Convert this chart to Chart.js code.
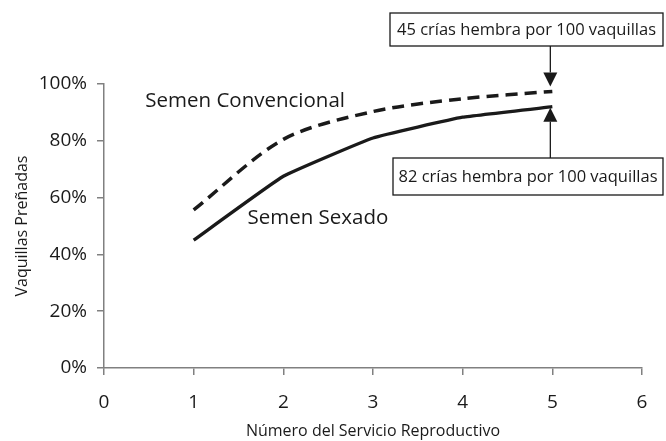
<!DOCTYPE html>
<html>
<head>
<meta charset="utf-8">
<script src="https://cdn.jsdelivr.net/npm/chart.js@4/dist/chart.umd.min.js"></script>
<style>
  body { margin: 0; background: #fff; }
  canvas { display: block; }
</style>
</head>
<body>
<canvas id="pregChart" width="666" height="441"></canvas>
<script>
// numero de servicio
var services = [1, 2, 3, 4, 5]
// % acumulado de vaquillas preñadas
var convencional = [55.7, 80.5, 90.3, 94.8, 97.4]
var sexado = [45, 67.5, 81, 88.3, 92]
var yTicks = [0, 20, 40, 60, 80, 100]
var xTicks = [0, 1, 2, 3, 4, 5, 6]

var FONT = "'Open Sans', sans-serif"
var INK = '#1a1a1a'
var AXIS = '#808080'

function pointsFrom(xs, ys) {
  return xs.map(function (x, i) { return { x: x, y: ys[i] } })
}

// etiquetas y cajas con flechas
var notesPlugin = {
  id: 'notes',
  afterDraw: function (chart) {
    var ctx = chart.ctx
    var xs = chart.scales.x, ys = chart.scales.y
    ctx.save()
    ctx.fillStyle = INK
    ctx.textBaseline = 'middle'
    ctx.textAlign = 'left'
    ctx.font = '20.5px ' + FONT
    ctx.fillText('Semen Convencional', xs.getPixelForValue(0.46), ys.getPixelForValue(94.1))
    ctx.fillText('Semen Sexado', xs.getPixelForValue(1.6), ys.getPixelForValue(52.9))

    var lastX = xs.getPixelForValue(services[services.length - 1]) - 2
    var convEnd = ys.getPixelForValue(convencional[convencional.length - 1])
    var sexEnd = ys.getPixelForValue(sexado[sexado.length - 1])

    drawBox(ctx, 390, 13, 273, 33, '45 crías hembra por 100 vaquillas')
    drawBox(ctx, 393, 158, 270, 37, '82 crías hembra por 100 vaquillas')

    drawArrow(ctx, lastX, 46, convEnd - 5)
    drawArrow(ctx, lastX, 158, sexEnd + 1)
    ctx.restore()
  }
}

function drawBox(ctx, x, y, w, h, text) {
  ctx.lineWidth = 1.3
  ctx.strokeStyle = INK
  ctx.strokeRect(x, y, w, h)
  ctx.font = '16.5px ' + FONT
  ctx.textAlign = 'center'
  ctx.fillText(text, x + w / 2, y + h / 2 + 1)
}

function drawArrow(ctx, x, from, tip) {
  var dir = tip > from ? 1 : -1
  var headLen = 14, headHalf = 7
  ctx.lineWidth = 1.3
  ctx.strokeStyle = INK
  ctx.beginPath()
  ctx.moveTo(x, from)
  ctx.lineTo(x, tip - dir * headLen)
  ctx.stroke()
  ctx.beginPath()
  ctx.moveTo(x, tip)
  ctx.lineTo(x - headHalf, tip - dir * headLen)
  ctx.lineTo(x + headHalf, tip - dir * headLen)
  ctx.closePath()
  ctx.fill()
}

var context = document.getElementById('pregChart').getContext('2d')
var myChart = new Chart(context, {
  type: 'line',
  data: {
    datasets: [{
      label: 'Semen Convencional',
      data: pointsFrom(services, convencional),
      borderColor: INK,
      borderWidth: 3.5,
      borderDash: [12, 7],
      pointRadius: 0,
      tension: 0.3,
      fill: false
    }, {
      label: 'Semen Sexado',
      data: pointsFrom(services, sexado),
      borderColor: INK,
      borderWidth: 3.3,
      pointRadius: 0,
      tension: 0.1,
      fill: false
    }]
  },
  options: {
    responsive: false,
    animation: false,
    devicePixelRatio: 1,
    layout: { padding: { top: 84, right: 24, left: 0, bottom: 0 } },
    plugins: {
      legend: { display: false },
      tooltip: { enabled: false }
    },
    scales: {
      x: {
        type: 'linear',
        min: 0,
        max: 6,
        afterBuildTicks: function (axis) {
          axis.ticks = xTicks.map(function (v) { return { value: v } })
        },
        afterFit: function (axis) { axis.height = 73 },
        border: { color: AXIS, width: 1.5 },
        grid: { drawOnChartArea: false, drawTicks: true, tickLength: 7, color: AXIS, lineWidth: 1.5 },
        ticks: { color: INK, font: { family: FONT, size: 19 }, padding: 16, maxRotation: 0 },
        title: {
          display: true,
          text: 'Número del Servicio Reproductivo',
          color: INK,
          font: { family: FONT, size: 16 },
          padding: { top: 0, bottom: 0 }
        }
      },
      y: {
        min: 0,
        max: 100,
        afterBuildTicks: function (axis) {
          axis.ticks = yTicks.map(function (v) { return { value: v } })
        },
        afterFit: function (axis) { axis.width = 104 },
        border: { color: AXIS, width: 1.5 },
        grid: { drawOnChartArea: false, drawTicks: true, tickLength: 7, color: AXIS, lineWidth: 1.5 },
        ticks: {
          color: INK,
          font: { family: FONT, size: 19 },
          padding: 10,
          callback: function (v) { return v + '%' }
        },
        title: {
          display: true,
          text: 'Vaquillas Preñadas',
          color: INK,
          font: { family: FONT, size: 16 },
          padding: { top: 13, bottom: 0 }
        }
      }
    }
  },
  plugins: [notesPlugin]
})
</script>
</body>
</html>
